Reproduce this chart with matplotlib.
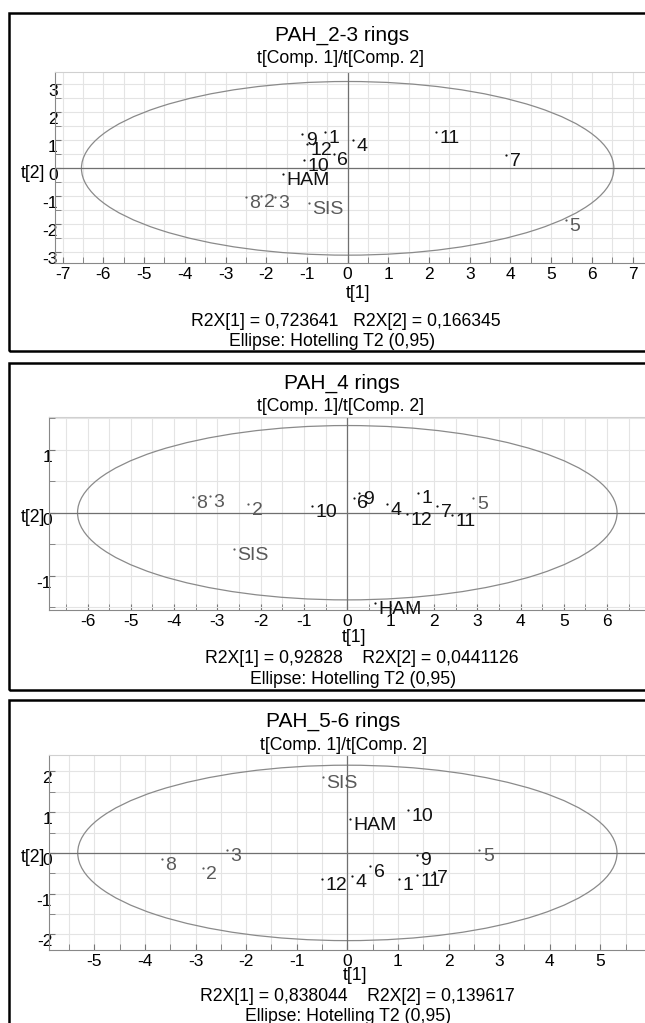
import numpy as np
import matplotlib
matplotlib.use("Agg")
import matplotlib.pyplot as plt
from matplotlib.patches import Ellipse, Rectangle
from matplotlib.ticker import MultipleLocator, FixedLocator

plt.rcParams['font.family'] = ['Liberation Sans', 'DejaVu Sans']
plt.rcParams['axes.unicode_minus'] = False

labels = ['1', '2', '3', '4', '5', '6', '7', '8', '9', '10', '11', '12', 'HAM', 'SIS']
grey_set = ['2', '3', '5', '8', 'SIS']

# scores t[1], t[2] per panel
t1_23 = [-0.55, -2.13, -1.78, 0.12, 5.36, -0.34, 3.90, -2.50, -1.11, -1.07, 2.16, -1.00, -1.60, -0.96]
t2_23 = [1.30, -0.99, -1.03, 1.00, -1.86, 0.52, 0.46, -1.03, 1.24, 0.29, 1.30, 0.88, -0.19, -1.24]

t1_4 = [1.64, -2.29, -3.17, 0.92, 2.91, 0.15, 2.08, -3.57, 0.28, -0.82, 2.41, 1.39, 0.64, -2.62]
t2_4 = [0.32, 0.14, 0.27, 0.14, 0.23, 0.24, 0.11, 0.25, 0.31, 0.11, -0.04, -0.02, -1.43, -0.57]

t1_56 = [1.03, -2.86, -2.38, 0.09, 2.61, 0.45, 1.71, -3.67, 1.37, 1.19, 1.38, -0.51, 0.05, -0.49]
t2_56 = [-0.63, -0.36, 0.07, -0.57, 0.08, -0.33, -0.47, -0.14, -0.04, 1.05, -0.55, -0.65, 0.82, 1.85]

titles = ['PAH_2-3 rings', 'PAH_4 rings', 'PAH_5-6 rings']
r2x_text = ['R2X[1] = 0,723641   R2X[2] = 0,166345',
            'R2X[1] = 0,92828    R2X[2] = 0,0441126',
            'R2X[1] = 0,838044    R2X[2] = 0,139617']
# Hotelling T2 (0.95) ellipse semi-axes
ell_a = [6.54, 6.23, 5.33]
ell_b = [3.10, 1.38, 2.15]
xticks = [range(-7, 8), range(-6, 7), range(-5, 6)]
yticks = [range(-3, 4), range(-1, 2), range(-2, 3)]

W, H = 645, 1023
fig = plt.figure(figsize=(W / 100, H / 100), dpi=100)


def fx(px):
    return px / W


def fy(py):
    return 1 - py / H


# layout in pixels: axes left/right/top/bottom, xlim, ylim, text rows
panels = [
    dict(ax=(55, 650.9, 71.7, 263), xlim=(-7.19, 7.45), ylim=(-3.38, 3.45),
         box=(9, 12.7, 351), title=(342, 35), sub=(340, 58.3), xl=(358, 293),
         r2=(346, 321.7), el=(332, 341.7), yl=(33, 173)),
    dict(ax=(49.4, 650.4, 416.7, 610), xlim=(-6.88, 7.0), ylim=(-1.54, 1.52),
         box=(9, 363.3, 690), title=(342, 383.3), sub=(340, 406.7), xl=(354, 638),
         r2=(362, 658.3), el=(353, 680), yl=(33, 517.7)),
    dict(ax=(49.4, 650.9, 755, 950), xlim=(-5.89, 6.0), ylim=(-2.38, 2.40),
         box=(9, 700, 1040), title=(333, 721.7), sub=(344, 745), xl=(355, 975),
         r2=(357, 996.7), el=(348, 1016.7), yl=(33, 857.7)),
]
data = [(t1_23, t2_23), (t1_4, t2_4), (t1_56, t2_56)]

for i, p in enumerate(panels):
    l, r, t, b = p['ax']
    ax = fig.add_axes([fx(l), fy(b), (r - l) / W, (b - t) / H])
    ax.set_xlim(p['xlim'])
    ax.set_ylim(p['ylim'])

    ax.xaxis.set_major_locator(FixedLocator(list(xticks[i])))
    ax.yaxis.set_major_locator(FixedLocator(list(yticks[i])))
    ax.xaxis.set_minor_locator(MultipleLocator(0.5))
    ax.yaxis.set_minor_locator(MultipleLocator(0.5))
    ax.grid(True, which='both', color='#e4e4e4', lw=0.8)
    ax.set_axisbelow(True)
    ax.tick_params(which='both', direction='in', length=4, color='#777777',
                   labelsize=12.5, top=False, right=False)
    ax.tick_params(axis='y', pad=-2)
    ax.tick_params(axis='x', pad=3)
    for lab in ax.get_yticklabels():
        lab.set_verticalalignment('top')
    for s in ['top', 'right']:
        ax.spines[s].set_color('#d0d0d0')
    for s in ['left', 'bottom']:
        ax.spines[s].set_color('#888888')

    ax.axhline(0, color='#707070', lw=0.9)
    ax.axvline(0, color='#707070', lw=0.9)
    ax.add_patch(Ellipse((0, 0), 2 * ell_a[i], 2 * ell_b[i], fill=False,
                         ec='#8a8a8a', lw=0.9))

    xs, ys = data[i]
    for lab, x, y in zip(labels, xs, ys):
        c = '#5a5a5a' if lab in grey_set else '#111111'
        ax.plot(x, y, 'o', ms=1.6, color=c, mec='none')
        ax.annotate(lab, (x, y), xytext=(2.5, 1.5), textcoords='offset points',
                    ha='left', va='top', fontsize=14, color=c)

    bx, btop, bbot = p['box']
    fig.add_artist(Rectangle((fx(bx), fy(bbot)), (700 - bx) / W, (bbot - btop) / H,
                             transform=fig.transFigure, fill=False, ec='black', lw=1.8))
    fig.text(fx(p['title'][0]), fy(p['title'][1]), titles[i], ha='center', va='center', fontsize=15)
    fig.text(fx(p['sub'][0]), fy(p['sub'][1]), 't[Comp. 1]/t[Comp. 2]', ha='center', va='center', fontsize=12.7)
    fig.text(fx(p['xl'][0]), fy(p['xl'][1]), 't[1]', ha='center', va='center', fontsize=12.7)
    fig.text(fx(p['r2'][0]), fy(p['r2'][1]), r2x_text[i], ha='center', va='center', fontsize=12.7)
    fig.text(fx(p['el'][0]), fy(p['el'][1]), 'Ellipse: Hotelling T2 (0,95)', ha='center', va='center', fontsize=12.7)
    fig.text(fx(p['yl'][0]), fy(p['yl'][1]), 't[2]', ha='center', va='center', fontsize=12.7)

fig.savefig('out.png', dpi=100)
